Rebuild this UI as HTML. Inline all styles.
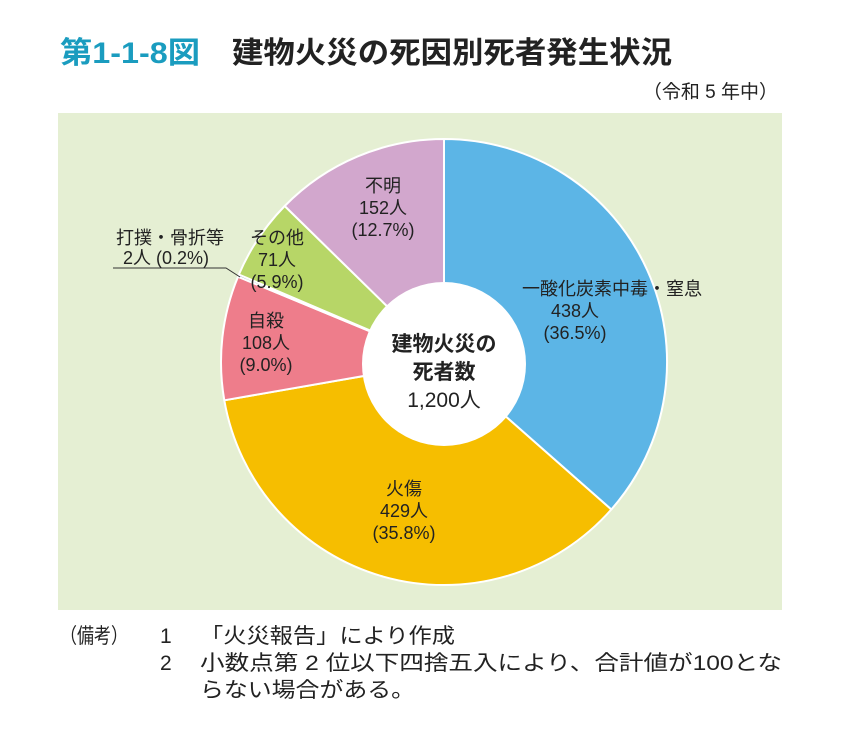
<!DOCTYPE html>
<html><head><meta charset="utf-8"><style>
body{margin:0;background:#fff;}
svg text{font-family:"Liberation Sans","Noto Sans CJK JP",sans-serif;fill:#222;}
</style></head><body>
<svg width="844" height="724" xmlns="http://www.w3.org/2000/svg">
<text x="60" y="63" font-size="30" font-weight="bold" textLength="140" lengthAdjust="spacingAndGlyphs" style="fill:#1a9cbf">第1-1-8図</text>
<text x="232" y="63" font-size="30" font-weight="bold" textLength="440" lengthAdjust="spacingAndGlyphs">建物火災の死因別死者発生状況</text>
<text x="778" y="98" font-size="19" text-anchor="end">（令和 5 年中）</text>
<rect x="58" y="113" width="724" height="497" fill="#e5efd3"/>
<g stroke="#fff" stroke-width="2" stroke-linejoin="round">
<path d="M444,362 L444,139 A223,223 0 0 1 611.3,509.5 Z" fill="#5cb5e6"/>
<path d="M444,362 L611.3,509.5 A223,223 0 0 1 224.3,400.3 Z" fill="#f6be00"/>
<path d="M444,362 L224.3,400.3 A223,223 0 0 1 238.0,276.7 Z" fill="#ee7d8b"/>
<path d="M444,362 L238.0,276.7 A223,223 0 0 1 238.9,274.5 Z" fill="#7d8cb0"/>
<path d="M444,362 L238.9,274.5 A223,223 0 0 1 284.7,206.0 Z" fill="#b7d667"/>
<path d="M444,362 L284.7,206.0 A223,223 0 0 1 444,139 Z" fill="#d2a7cd"/>
</g>
<circle cx="444" cy="364" r="82" fill="#fff"/>
<polyline points="113,268 226,268 240,277" fill="none" stroke="#333" stroke-width="1"/>
<g font-size="18" text-anchor="middle">
<text x="444" y="351" font-size="21" font-weight="bold">建物火災の</text>
<text x="444" y="379" font-size="21" font-weight="bold">死者数</text>
<text x="444" y="407" font-size="21">1,200人</text>
<text x="383" y="192">不明</text><text x="383" y="214">152人</text><text x="383" y="236">(12.7%)</text>
<text x="277" y="244">その他</text><text x="277" y="266">71人</text><text x="277" y="288">(5.9%)</text>
<text x="170" y="244">打撲・骨折等</text><text x="166" y="264">2人 (0.2%)</text>
<text x="266" y="327">自殺</text><text x="266" y="349">108人</text><text x="266" y="371">(9.0%)</text>
<text x="612" y="295">一酸化炭素中毒・窒息</text><text x="575" y="317">438人</text><text x="575" y="339">(36.5%)</text>
<text x="404" y="495">火傷</text><text x="404" y="517">429人</text><text x="404" y="539">(35.8%)</text>
</g>
<g font-size="21">
<text x="60" y="643" textLength="68" lengthAdjust="spacingAndGlyphs">（備考）</text>
<text x="160" y="643">1</text><text x="200" y="643" textLength="255" lengthAdjust="spacingAndGlyphs">「火災報告」により作成</text>
<text x="160" y="670">2</text><text x="200" y="670" textLength="582" lengthAdjust="spacingAndGlyphs">小数点第 2 位以下四捨五入により、合計値が100とな</text>
<text x="200" y="697" textLength="215" lengthAdjust="spacingAndGlyphs">らない場合がある。</text>
</g>
</svg>
</body></html>
